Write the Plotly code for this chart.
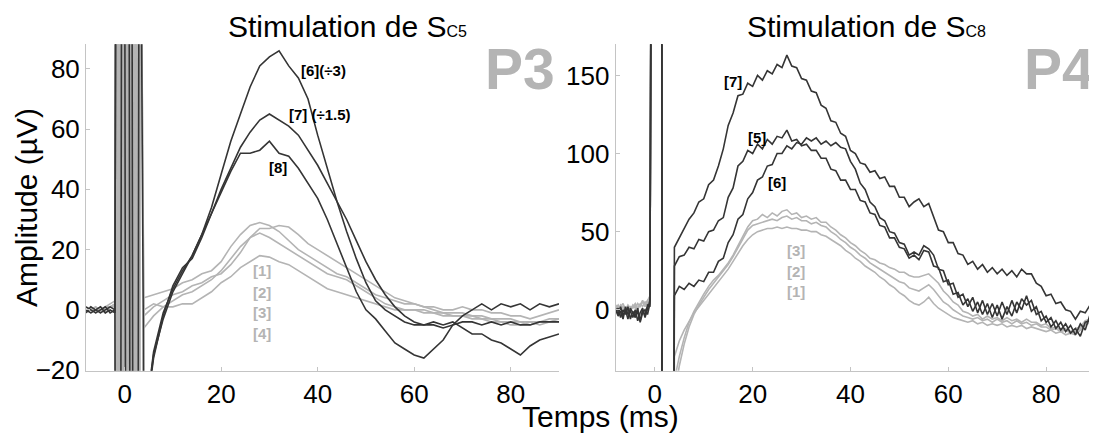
import plotly.graph_objs as go
from plotly.subplots import make_subplots

# ---------------- left panel : stimulation de S_C5 (P3) ----------------
t_pre_l = [-8, -7, -6, -5, -4, -3, -2]
t_art_l = [-1.8, -1.5, -1.2, -0.9, -0.6, -0.3, 0.0, 0.3, 0.6, 0.9, 1.2, 1.5, 1.8, 2.1, 2.4, 2.7, 3.0, 3.3]
t_post_l = [4, 6, 8, 10, 12, 14, 16, 18, 20, 22, 24, 26, 28, 30, 32, 34, 36, 38, 40, 42, 44,
            46, 48, 50, 52, 54, 56, 58, 60, 62, 64, 66, 68, 70, 72, 74, 76, 78, 80, 82, 84, 86, 88, 90]

# stimulus artefact (saturated swings)
art_g1 = [150, -150, 150, -150, 150, -150, 150, -150, 150, -150, 150, -150, 150, -150, 150, -150, 150, -150]
art_g2 = [-150, 150, -150, 150, -150, 150, -150, 150, -150, 150, -150, 150, -150, 150, -150, 150, -150, 150]
art_g3 = [150, 150, -150, -150, 150, 150, -150, -150, 150, 150, -150, -150, 150, 150, -150, -150, 150, 150]
art_g4 = [-150, -150, 150, 150, -150, -150, 150, 150, -150, -150, 150, 150, -150, -150, 150, 150, -150, -150]
art_d6 = [150, 150, 150, 150, 150, 150, 150, -150, -150, -150, -150, -150, -150, -150, -150, -150, 150, 150]
art_d7 = [-150, -150, -150, -150, 150, 150, 150, 150, 150, 150, 150, 150, -150, -150, -150, -150, -150, -150]
art_d8 = [150, 150, 150, 150, 150, 150, 150, 150, 150, 150, -150, -150, -150, -150, -150, -150, -150, -150]

# grey traces [1]..[4]
g1_pre = [1, 0, 1, -1, 1, 2, 3]
g1 = [4, 5, 6, 7, 9, 10, 12, 13, 16, 21, 25, 28, 29, 28, 26, 23, 20, 18, 16, 14, 12, 11,
      9, 7, 5, 4, 3, 2, 2, 1, 1, 0, 0, 1, 0, 0, -1, -1, -2, -2, -3, -2, -1, 0]
g2_pre = [0, 1, -1, 0, 1, 1, 2]
g2 = [-2, 1, 3, 5, 6, 8, 9, 11, 12, 15, 19, 24, 27, 27, 28, 27.5, 25, 22, 20, 18, 16, 14,
      12, 10, 8, 6, 4, 3, 2, 1, 0, -1, -1, -1, -2, -2, -3, -3, -3, -4, -4, -5, -4, -4]
g3_pre = [-1, 0, 1, 0, -1, 1, 2]
g3 = [-6, -2, 1, 3, 5, 6, 8, 10, 13, 17, 21, 24, 25.5, 24, 22, 20, 18, 16, 14, 12, 11, 10,
      8, 6, 4, 2, 1, 0, 0, -1, -1, -2, -2, -2, -3, -3, -4, -4, -5, -5, -4, -4, -3, -3]
g4_pre = [0, -1, 0, 1, 0, 1, 1]
g4 = [0, 2, 1, 1, 2, 2, 4, 6, 9, 11, 14, 16, 18, 17.5, 16, 15, 13, 11, 9, 7, 6, 5,
      4, 3, 2, 1, 0, 0, 0, 0, -1, -1, -2, -2, -2, -3, -3, -4, -4, -4, -5, -4, -4, -3]

# dark traces [6](/3), [7](/1.5), [8]
d6_pre = [0, -1, 0, 1, -1, 0, -1]
d6 = [-40, -14, -1, 7, 13, 18, 25, 34, 45, 56, 65, 74, 81, 84, 86, 81, 77, 70, 58, 47, 36, 26,
      17, 9, 3, 0, -2, -4, -5, -5, -4, -5, -4, -6, -8, -8, -10, -11, -13, -15, -12, -10, -9, -8]
d7_pre = [1, 0, -1, 0, 1, -1, 0]
d7 = [-40, -15, -3, 6, 12, 18, 25, 32, 40, 47, 54, 59, 63, 65, 63, 61, 58, 53, 48, 42, 36, 30,
      23, 16, 10, 5, 1, -2, -4, -5, -5, -6, -5, -4, -4, -5, -4, -5, -4, -5, -5, -4, -4, -4]
d8_pre = [-1, 1, 0, -1, 0, 1, 0]
d8 = [-40, -16, -2, 8, 14, 17, 24, 32, 39, 46, 52, 52, 53, 56, 52, 51, 47, 42, 37, 30, 22, 14,
      6, 0, -3, -7, -11, -13, -15, -16, -13, -10, -5, -2, 0, 2, 0, 2, 1, 2, 0, 2, 1, 2]

# ---------------- right panel : stimulation de S_C8 (P4) ----------------
t_pre_r = [-8, -7.5, -7, -6.5, -6, -5.5, -5, -4.5, -4, -3.5, -3, -2.5, -2, -1.5, -1]
t_art_r = [-0.6, 1.4, 1.5, 3.6]
t_post_r = list(range(4, 91))
art_r = [400, 400, -400, -400]

r1_pre = [2, 0, 3, 1, -1, 2, 0, 3, 1, 4, 2, 5, 3, 6, 8]
r1 = [-30, -20, -13, -7, -2, 2, 6, 10, 14, 18,
      22, 26, 31, 36, 41, 45, 48, 50, 51, 52,
      52, 53, 52, 53, 52, 52, 51, 51, 50, 50,
      48, 47, 45, 43, 41, 38, 36, 33, 31, 28,
      26, 24, 21, 19, 16, 14, 11, 9, 6, 4,
      3, 5, 8, 4, 1, -1, -3, -5, -6, -7,
      -8, -7, -9, -8, -10, -9, -10, -9, -11, -10,
      -11, -10, -12, -11, -12, -13, -14, -13, -15, -14,
      -16, -15, -16, -13, -10, -8, -6]
r2_pre = [1, 3, 0, 2, 1, -1, 2, 1, 3, 0, 4, 2, 5, 4, 7]
r2 = [-55, -36, -22, -11, -3, 3, 8, 13, 17, 21,
      25, 29, 34, 40, 46, 51, 54, 55, 56, 57,
      58, 57, 59, 60, 58, 59, 57, 57, 55, 56,
      54, 53, 50, 48, 45, 43, 40, 38, 35, 33,
      30, 28, 26, 24, 22, 20, 18, 17, 14, 13,
      12, 14, 16, 13, 9, 5, 3, 0, -2, -4,
      -5, -6, -5, -7, -6, -8, -6, -8, -7, -9,
      -7, -9, -8, -10, -9, -11, -11, -13, -12, -14,
      -13, -15, -14, -12, -9, -7, -5]
r3_pre = [3, 1, 2, 4, 0, 3, 1, 2, 4, 1, 3, 6, 2, 5, 9]
r3 = [-45, -30, -18, -8, -1, 5, 10, 15, 19, 22,
      26, 30, 35, 41, 47, 53, 57, 58, 61, 59,
      62, 60, 63, 64, 61, 62, 59, 60, 58, 59,
      56, 56, 53, 51, 48, 46, 43, 41, 38, 36,
      33, 32, 30, 29, 27, 26, 24, 24, 22, 21,
      21, 22, 23, 20, 17, 12, 9, 5, 3, -1,
      -2, -4, -3, -6, -4, -6, -5, -7, -5, -7,
      -6, -8, -6, -8, -8, -10, -9, -12, -11, -13,
      -12, -14, -12, -11, -7, -6, -3]

r5_pre = [1, -3, 2, -4, 0, -6, 1, -2, -5, -1, -7, 0, -4, 3, 2]
r5 = [28, 34, 35, 40, 39, 45, 44, 50, 51, 57,
      59, 72, 78, 92, 95, 102, 100, 106, 103, 109,
      106, 111, 110, 115, 108, 109, 105, 106, 102, 102,
      97, 97, 90, 89, 83, 83, 77, 77, 70, 69,
      62, 61, 54, 53, 46, 46, 40, 39, 33, 35,
      32, 38, 37, 28, 27, 18, 19, 10, 11, 3,
      7, -1, 5, -3, 4, -5, 3, -6, 2, -4,
      5, 0, 9, -1, 2, -7, -4, -11, -7, -13,
      -9, -15, -12, -17, -8, -7, -2]
r6_pre = [-2, 1, -5, 0, -3, 2, -6, -1, -4, 1, -8, -2, 0, -3, 4]
r6 = [9, 15, 13, 17, 15, 19, 18, 24, 24, 31,
      33, 43, 48, 58, 61, 71, 75, 83, 85, 92,
      93, 100, 100, 105, 103, 107, 106, 110, 108, 110,
      106, 108, 105, 107, 104, 103, 95, 90, 81, 77,
      69, 66, 59, 57, 50, 49, 43, 42, 35, 37,
      35, 41, 39, 35, 26, 25, 16, 17, 8, 10,
      2, 8, -2, 6, -3, 4, -4, 5, -3, 6,
      -2, 7, 3, 6, -3, -1, -8, -5, -12, -8,
      -14, -10, -16, -9, -13, -3, -6]
r7_pre = [0, -4, -1, -6, 2, -3, -1, -5, 0, -7, -2, 1, -5, 1, 6]
r7 = [40, 46, 51, 58, 62, 69, 71, 80, 83, 92,
      103, 118, 126, 137, 138, 145, 143, 150, 147, 153,
      151, 157, 155, 163, 156, 155, 148, 147, 140, 139,
      131, 129, 121, 120, 113, 111, 102, 100, 94, 93,
      88, 89, 84, 85, 79, 79, 72, 72, 66, 69,
      71, 66, 68, 60, 51, 50, 43, 43, 36, 35,
      29, 31, 26, 29, 24, 27, 23, 26, 22, 25,
      21, 26, 23, 23, 17, 15, 9, 10, 4, 5,
      0, -1, -6, -1, -2, 3, 2]

DARK = '#353535'
GREY = '#b4b4b4'
FONT = 'Liberation Sans, Arial, sans-serif'

# page body has an 8px margin; the photographed page comes out ~3% shorter vertically,
# so target pixel rows are stretched back before converting to paper fractions
W, H, OFF, VS = 1089, 445, 8, 0.97


def px(x):
    return (x - OFF) / W


def py(y):
    return 1 - ((y + 1) / VS - OFF) / H


fig = make_subplots(rows=1, cols=2)

left = [(g1_pre, art_g1, g1, GREY), (g2_pre, art_g2, g2, GREY), (g3_pre, art_g3, g3, GREY),
        (g4_pre, art_g4, g4, GREY), (d6_pre, art_d6, d6, DARK), (d7_pre, art_d7, d7, DARK),
        (d8_pre, art_d8, d8, DARK)]
for pre, art, post, col in left:
    fig.add_trace(go.Scatter(x=t_pre_l + t_art_l + t_post_l, y=pre + art + post, mode='lines',
                             line=dict(color=col, width=1.6), showlegend=False), row=1, col=1)

right = [(r1_pre, r1, GREY), (r2_pre, r2, GREY), (r3_pre, r3, GREY),
         (r5_pre, r5, DARK), (r6_pre, r6, DARK), (r7_pre, r7, DARK)]
for pre, post, col in right:
    fig.add_trace(go.Scatter(x=t_pre_r + t_art_r + t_post_r, y=pre + art_r + post, mode='lines',
                             line=dict(color=col, width=1.6), showlegend=False), row=1, col=2)

axis_style = dict(showgrid=False, zeroline=False, showline=True, linecolor='#c4c4c4', linewidth=1,
                  ticks='inside', ticklen=4, tickcolor='#c4c4c4',
                  tickfont=dict(family=FONT, size=26, color='black'))

fig.update_xaxes(axis_style)
fig.update_yaxes(axis_style)
fig.update_xaxes(range=[-8, 90], tickvals=[0, 20, 40, 60, 80], domain=[px(86), px(559)], row=1, col=1)
fig.update_xaxes(range=[-8, 90], tickvals=[0, 20, 40, 60, 80], domain=[px(615.7), px(1095)], row=1, col=2)
fig.update_yaxes(range=[-20.2, 88.2], tickvals=[-20, 0, 20, 40, 60, 80], domain=[py(370), py(43)], row=1, col=1)
fig.update_yaxes(range=[-39, 170], tickvals=[0, 50, 100, 150], domain=[py(370), py(43)], row=1, col=2)

ann = []
# titles
TITLE_FONT = dict(family=FONT, size=30, color='black')
ann.append(dict(text='Stimulation de S<span style="font-size:16px">C5</span>', x=px(347), y=py(25)))
ann.append(dict(text='Stimulation de S<span style="font-size:16px">C8</span>', x=px(866), y=py(25)))
for a in ann:
    a.update(xref='paper', yref='paper', xanchor='center', yanchor='middle', showarrow=False, font=TITLE_FONT)
# patient tags
for txt, xr in [('P3', 557), ('P4', 1096)]:
    ann.append(dict(text='<b>%s</b>' % txt, x=px(xr), y=py(68), xref='paper', yref='paper', xanchor='right',
                    yanchor='middle', showarrow=False, font=dict(family=FONT, size=57, color='#b4b4b4')))
# axis titles
ann.append(dict(text='Amplitude (\u00b5V)', x=px(27), y=py(207), xref='paper', yref='paper', textangle=-90,
                xanchor='center', yanchor='middle', showarrow=False, font=dict(family=FONT, size=30, color='black')))
ann.append(dict(text='Temps (ms)', x=px(600), y=py(416), xref='paper', yref='paper',
                xanchor='center', yanchor='middle', showarrow=False, font=dict(family=FONT, size=30, color='black')))

LAB = dict(family=FONT, size=15, color='black')
LABG = dict(family=FONT, size=15, color='#b4b4b4')
left_labels = [('[6](\u00f73)', 41.3, 79.3, LAB), ('[7] (\u00f71.5)', 40.4, 65, LAB), ('[8]', 31.8, 47.1, LAB),
               ('[1]', 28.5, 12.9, LABG), ('[2]', 28.5, 5.6, LABG), ('[3]', 28.5, -1, LABG), ('[4]', 28.5, -8, LABG)]
for txt, x, y, f in left_labels:
    ann.append(dict(text='<b>%s</b>' % txt, x=x, y=y, xref='x', yref='y', xanchor='center', yanchor='middle',
                    showarrow=False, font=f))
right_labels = [('[7]', 16, 146, LAB), ('[5]', 20.9, 110, LAB), ('[6]', 25, 81.7, LAB),
                ('[3]', 28.8, 37.7, LABG), ('[2]', 28.8, 24.3, LABG), ('[1]', 28.8, 11.5, LABG)]
for txt, x, y, f in right_labels:
    ann.append(dict(text='<b>%s</b>' % txt, x=x, y=y, xref='x2', yref='y2', xanchor='center', yanchor='middle',
                    showarrow=False, font=f))

fig.update_layout(width=W, height=H, margin=dict(l=0, r=0, t=0, b=0),
                  plot_bgcolor='white', paper_bgcolor='white', annotations=ann)

fig.write_html("out.html")
